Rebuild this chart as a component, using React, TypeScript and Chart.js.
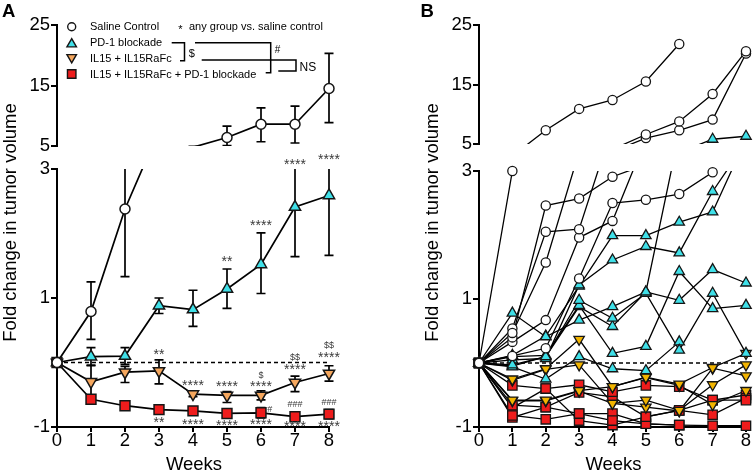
import React, { useEffect, useRef } from 'react';
import { Chart, registerables } from 'chart.js';

Chart.register(...registerables);

const FONT = "'Liberation Sans', Arial, Helvetica, sans-serif";

// ---------- shared axes ----------
const WEEKS = [0, 1, 2, 3, 4, 5, 6, 7, 8];
const Y_TOP_TICKS = [5, 15, 25];
const Y_BOTTOM_TICKS = [-1, 1, 3];
const Y_TOP_RANGE = [5, 25];
const Y_BOTTOM_RANGE = [-1, 3];
const ZERO_LINE = [0, 0]; // reference line value at first and last week
const Y_TITLE = 'Fold change in tumor volume';
const X_TITLE = 'Weeks';
const LEGEND_LABELS = ['Saline Control', 'PD-1 blockade', 'IL15 + IL15RaFc', 'IL15 + IL15RaFc + PD-1 blockade'];
const LEGEND_NOTE = 'any group vs. saline control';

// ---------- panel A: group means with error bars ----------
const SALINE_MEAN = [0, 0.79, 2.38, 3.6, 4.8, 6.4, 8.6, 8.6, 14.5];
const SALINE_LO = [0, 0.36, 1.33, 3.2, 4.2, 5.05, 5.7, 5.5, 8.85];
const SALINE_HI = [0, 1.25, 3.6, 4.0, 4.95, 8.3, 11.3, 11.6, 20.3];

const PD1_MEAN = [0, 0.09, 0.1, 0.88, 0.82, 1.14, 1.52, 2.41, 2.59];
const PD1_LO = [0, -0.05, -0.03, 0.76, 0.56, 0.84, 1.07, 1.64, 1.66];
const PD1_HI = [0, 0.23, 0.23, 1.0, 1.12, 1.45, 2.01, 3.4, 3.5];

const IL15_MEAN = [0, -0.3, -0.15, -0.13, -0.49, -0.51, -0.51, -0.31, -0.17];
const IL15_LO = [0, -0.5, -0.31, -0.33, -0.53, -0.62, -0.58, -0.45, -0.29];
const IL15_HI = [0, -0.04, -0.06, 0.04, -0.45, -0.45, -0.44, -0.21, -0.05];

const COMBO_MEAN = [0, -0.57, -0.67, -0.73, -0.75, -0.79, -0.78, -0.84, -0.8];
const COMBO_LO = [0, -0.62, -0.71, -0.8, -0.8, -0.84, -0.86, -0.9, -0.87];
const COMBO_HI = [0, -0.52, -0.63, -0.66, -0.7, -0.74, -0.7, -0.78, -0.73];

// significance marks: [week, value at mark centre, text]
const PD1_MARKS: [number, number, string][] = [[5, 1.6, '**'], [6, 2.16, '****'], [7, 3.11, '****'], [8, 3.19, '****']];
const IL15_MARKS: [number, number, string][] = [
  [3, 0.17, '**'], [4, -0.32, '****'], [5, -0.33, '****'], [6, -0.34, '****'], [6, -0.2, '$'],
  [7, -0.07, '****'], [7, 0.09, '$$'], [8, 0.12, '****'], [8, 0.27, '$$'],
];
const COMBO_MARKS: [number, number, string][] = [
  [3, -0.89, '**'], [4, -0.92, '****'], [5, -0.94, '****'], [6, -0.92, '****'], [6.26, -0.72, '#'],
  [7, -0.65, '###'], [7, -0.95, '****'], [8, -0.61, '###'], [8, -0.95, '****'],
];

// ---------- panel B: individual mice ----------
const SALINE_MICE = [
  [0, 3.0, 7.3, 10.9, 12.4, 15.5, 21.8, null, null],
  [0, 0.47, 1.57, 3.3, 4.1, 6.6, 8.8, 13.4, 20.6],
  [0, 0.54, 2.05, 2.09, 3.7, 6.0, 7.3, 9.1, 20.2],
  [0, 0.4, 2.46, 2.57, 2.91, 3.1, 3.6, null, null],
  [0, 0.33, 0.67, 1.96, 2.22, 3.5, null, null, null],
  [0, 0.11, 0.23, 1.32, 2.5, 2.55, 2.64, 2.98, 3.6],
];
const PD1_MICE = [
  [0, 0.78, 0.41, 0.67, 0.88, 1.11, 0.98, 1.46, 1.25],
  [0, -0.03, 0.1, 0.98, 0.7, 1.09, 0.2, 1.09, 0.15],
  [0, 0.1, 0.12, 0.9, 0.15, 0.26, 1.43, 0.85, 0.9],
  [0, 0.05, 0.07, 1.22, 1.61, 1.82, 1.72, 2.68, 3.45],
  [0, 0.12, 0.42, 1.2, 1.99, 1.99, 2.2, 2.36, 3.5],
  [0, -0.06, -0.25, 0.1, -0.09, -0.12, 0.33, null, null],
  [0, -0.05, 0.1, 0.88, 0.57, 1.11, 3.6, 5.8, 6.3],
];
const IL15_MICE = [
  [0, -0.25, -0.09, 0.37, -0.37, -0.22, -0.33, -0.07, 0.15],
  [0, -0.27, -0.1, -0.03, -0.63, -0.58, -0.74, -0.34, -0.03],
  [0, -0.58, -0.58, -0.43, -0.37, -0.23, -0.35, -0.65, -0.43],
  [0, -0.59, -0.59, -0.44, -0.63, -0.69, -0.75, -0.08, -0.2],
];
const COMBO_MICE = [
  [0, -0.35, -0.4, -0.34, -0.45, -0.35, -0.37, -0.58, -0.58],
  [0, -0.66, -0.69, -0.46, -0.53, -0.84, -0.74, -0.81, -0.55],
  [0, -0.82, -0.88, -0.79, -0.9, -0.95, -0.97, -0.98, -0.98],
  [0, -0.7, -0.4, -0.9, -0.97, -0.84, -0.74, -0.58, -0.5],
  [0, -0.85, -0.69, -0.79, -0.79, -0.95, -0.97, null, null],
];

// ---------- styles ----------
const CYAN = '#3fe0e8';
const RED = '#ee1c1c';
const ORANGE_A = '#f5a75e';
const ORANGE_B = '#f2b400';
const EDGE = '#151515';

const STYLES_A = [
  { shape: 'circle', rotation: 0, fill: '#ffffff', radius: 5 },
  { shape: 'triangle', rotation: 0, fill: CYAN, radius: 6.5 },
  { shape: 'triangle', rotation: 180, fill: ORANGE_A, radius: 6.5 },
  { shape: 'rect', rotation: 0, fill: RED, radius: 7 },
];
const STYLES_B = [
  { shape: 'circle', rotation: 0, fill: '#ffffff', radius: 4.6 },
  { shape: 'triangle', rotation: 0, fill: CYAN, radius: 6 },
  { shape: 'triangle', rotation: 180, fill: ORANGE_B, radius: 6 },
  { shape: 'rect', rotation: 0, fill: RED, radius: 6.6 },
];

const SEGS = [
  { id: 'yTop', min: Y_TOP_RANGE[0], max: Y_TOP_RANGE[1] },
  { id: 'yBottom', min: Y_BOTTOM_RANGE[0], max: Y_BOTTOM_RANGE[1] },
];

function seriesDatasets(values: (number | null)[], style: any, lineWidth: number, edgeWidth: number) {
  const out: any[] = [];
  for (const seg of SEGS) {
    out.push({
      data: WEEKS.map((w, i) => ({ x: w, y: values[i] ?? null })),
      yAxisID: seg.id,
      clipSeg: seg.id,
      clip: false,
      borderColor: '#000',
      borderWidth: lineWidth,
      pointRadius: 0,
      tension: 0,
      fill: false,
      spanGaps: false,
      order: 2,
    });
    out.push({
      data: WEEKS.map((w, i) => ({ x: w, y: values[i] }))
        .filter((p) => p.y != null && (p.y as number) >= seg.min && (p.y as number) <= seg.max),
      yAxisID: seg.id,
      clip: false,
      showLine: false,
      pointStyle: style.shape === 'rect' ? 'rect' : style.shape,
      pointRotation: style.rotation,
      pointRadius: style.radius,
      pointBackgroundColor: style.fill,
      pointBorderColor: EDGE,
      pointBorderWidth: edgeWidth,
      order: 1,
    });
  }
  return out;
}

function zeroLineDataset() {
  return {
    data: [
      { x: WEEKS[0], y: ZERO_LINE[0] },
      { x: WEEKS[WEEKS.length - 1], y: ZERO_LINE[1] },
    ],
    yAxisID: 'yBottom',
    clip: false,
    borderColor: '#000',
    borderWidth: 1.5,
    borderDash: [4, 3],
    pointRadius: 0,
    order: 3,
  };
}

function makeScales(p: { yWidth: number; topWeight: number; gapWeight: number; bottomWeight: number }) {
  const tickFont = { family: FONT, size: 18.5 };
  const yAxis = (min: number, max: number, ticks: number[], weight: number) => ({
    type: 'linear',
    position: 'left',
    stack: 'y',
    stackWeight: weight,
    min,
    max,
    afterBuildTicks: (s: any) => { s.ticks = ticks.map((v) => ({ value: v })); },
    afterFit: (s: any) => { s.width = p.yWidth; },
    ticks: { font: tickFont, color: '#000', padding: 1 },
    grid: { display: true, drawOnChartArea: false, drawTicks: true, tickLength: 6, color: '#000', lineWidth: 2 },
    border: { display: true, color: '#000', width: 2 },
  });
  return {
    x: {
      type: 'linear',
      position: 'bottom',
      min: WEEKS[0],
      max: WEEKS[WEEKS.length - 1],
      afterBuildTicks: (s: any) => { s.ticks = WEEKS.map((v) => ({ value: v })); },
      afterFit: (s: any) => { s.height = 45; },
      ticks: { font: tickFont, color: '#000', padding: -2, maxRotation: 0, autoSkip: false },
      grid: { display: true, drawOnChartArea: false, drawTicks: true, tickLength: 5, color: '#000', lineWidth: 2 },
      border: { display: true, color: '#000', width: 2 },
    },
    yBottom: yAxis(Y_BOTTOM_RANGE[0], Y_BOTTOM_RANGE[1], Y_BOTTOM_TICKS, p.bottomWeight),
    yGap: { type: 'linear', position: 'left', stack: 'y', stackWeight: p.gapWeight, display: false, min: 0, max: 1 },
    yTop: yAxis(Y_TOP_RANGE[0], Y_TOP_RANGE[1], Y_TOP_TICKS, p.topWeight),
  };
}

// clip line datasets to their own axis segment
const segClipPlugin = {
  id: 'segClip',
  beforeDatasetDraw(chart: any, args: any) {
    const ds = chart.data.datasets[args.index];
    if (!ds.clipSeg) return;
    const s = chart.scales[ds.clipSeg];
    const ctx = chart.ctx;
    ctx.save();
    ctx.beginPath();
    ctx.rect(0, s.top, chart.width, s.bottom - s.top);
    ctx.clip();
  },
  afterDatasetDraw(chart: any, args: any) {
    const ds = chart.data.datasets[args.index];
    if (!ds.clipSeg) return;
    chart.ctx.restore();
  },
};

function textCentered(ctx: CanvasRenderingContext2D, text: string, x: number, cy: number, align: CanvasTextAlign) {
  ctx.textAlign = align;
  ctx.textBaseline = 'alphabetic';
  const m = ctx.measureText(text);
  const asc = m.actualBoundingBoxAscent;
  const desc = m.actualBoundingBoxDescent;
  ctx.fillText(text, x, cy + (asc - desc) / 2);
}

function drawMarker(ctx: CanvasRenderingContext2D, style: any, x: number, y: number, r: number) {
  ctx.beginPath();
  if (style.shape === 'circle') {
    ctx.arc(x, y, r, 0, Math.PI * 2);
  } else if (style.shape === 'rect') {
    const h = r * Math.SQRT1_2;
    ctx.rect(x - h, y - h, 2 * h, 2 * h);
  } else {
    const d = style.rotation === 180 ? -1 : 1;
    const cy = y + d * r * 0.25;
    ctx.moveTo(x, cy - d * r);
    ctx.lineTo(x + r * 0.866, cy + d * r * 0.5);
    ctx.lineTo(x - r * 0.866, cy + d * r * 0.5);
    ctx.closePath();
  }
  ctx.fillStyle = style.fill;
  ctx.fill();
  ctx.lineWidth = 1.4;
  ctx.strokeStyle = EDGE;
  ctx.stroke();
}

function decorPlugin(label: string, labelX: number, yTitleX: number) {
  return {
    id: 'decor',
    afterDraw(chart: any) {
      const ctx = chart.ctx;
      const area = chart.chartArea;
      ctx.save();
      ctx.fillStyle = '#000';
      ctx.font = `bold 18.5px ${FONT}`;
      ctx.textAlign = 'left';
      ctx.textBaseline = 'alphabetic';
      ctx.fillText(label, labelX, 16.7);
      ctx.font = `18.5px ${FONT}`;
      ctx.textAlign = 'center';
      ctx.fillText(X_TITLE, (area.left + area.right) / 2 + 1, 470);
      ctx.translate(yTitleX, (area.top + area.bottom) / 2 - 3.5);
      ctx.rotate(-Math.PI / 2);
      ctx.fillText(Y_TITLE, 0, 0);
      ctx.restore();
    },
  };
}

const ERR_GROUPS = [
  { lo: SALINE_LO, hi: SALINE_HI },
  { lo: PD1_LO, hi: PD1_HI },
  { lo: IL15_LO, hi: IL15_HI },
  { lo: COMBO_LO, hi: COMBO_HI },
];

const errorBarsPlugin = {
  id: 'errorBars',
  beforeDatasetsDraw(chart: any) {
    const ctx = chart.ctx;
    const xs = chart.scales.x;
    for (const seg of SEGS) {
      const s = chart.scales[seg.id];
      ctx.save();
      ctx.beginPath();
      ctx.rect(0, s.top, chart.width, s.bottom - s.top);
      ctx.clip();
      ctx.strokeStyle = '#000';
      ctx.lineWidth = 1.7;
      for (const g of ERR_GROUPS) {
        WEEKS.forEach((w, i) => {
          const lo = g.lo[i];
          const hi = g.hi[i];
          if (lo == null || hi == null || lo === hi) return;
          const px = xs.getPixelForValue(w);
          const y1 = s.getPixelForValue(lo);
          const y2 = s.getPixelForValue(hi);
          ctx.beginPath();
          ctx.moveTo(px, y1);
          ctx.lineTo(px, y2);
          ctx.moveTo(px - 4.5, y1);
          ctx.lineTo(px + 4.5, y1);
          ctx.moveTo(px - 4.5, y2);
          ctx.lineTo(px + 4.5, y2);
          ctx.stroke();
        });
      }
      ctx.restore();
    }
  },
  afterDatasetsDraw(chart: any) {
    const ctx = chart.ctx;
    const xs = chart.scales.x;
    const ys = chart.scales.yBottom;
    ctx.save();
    ctx.fillStyle = '#3a3a3a';
    for (const [w, v, t] of [...PD1_MARKS, ...IL15_MARKS, ...COMBO_MARKS]) {
      const star = t.startsWith('*');
      ctx.font = star ? `14px ${FONT}` : `9px ${FONT}`;
      textCentered(ctx, t, xs.getPixelForValue(w), ys.getPixelForValue(v), 'center');
    }
    ctx.restore();
  },
};

const legendPlugin = {
  id: 'legendA',
  afterDraw(chart: any) {
    const ctx = chart.ctx;
    ctx.save();
    const rows = [26.7, 42.7, 58.7, 74];
    const sizes = [4, 5.5, 5.5, 6];
    LEGEND_LABELS.forEach((lab, i) => {
      drawMarker(ctx, STYLES_A[i], 71.7, rows[i], sizes[i]);
      ctx.fillStyle = '#000';
      ctx.font = `11px ${FONT}`;
      ctx.textAlign = 'left';
      ctx.textBaseline = 'middle';
      ctx.fillText(lab, 90, rows[i] + 0.5);
    });
    ctx.fillStyle = '#000';
    ctx.font = `11px ${FONT}`;
    textCentered(ctx, '*', 180.5, 27.2, 'center');
    ctx.textBaseline = 'middle';
    ctx.textAlign = 'left';
    ctx.fillText(LEGEND_NOTE, 189, 27.2);

    ctx.strokeStyle = '#000';
    ctx.lineWidth = 1.5;
    ctx.beginPath();
    ctx.moveTo(171.7, 42.7); ctx.lineTo(184.5, 42.7); ctx.lineTo(184.5, 60.7); ctx.lineTo(180, 60.7);
    ctx.moveTo(195, 42.7); ctx.lineTo(270.7, 42.7); ctx.lineTo(270.7, 72.7); ctx.lineTo(265.7, 72.7);
    ctx.moveTo(201.7, 60); ctx.lineTo(296, 60); ctx.lineTo(296, 71); ctx.lineTo(278.3, 71);
    ctx.stroke();

    ctx.fillStyle = '#000';
    ctx.font = `11px ${FONT}`;
    textCentered(ctx, '$', 191.7, 53.3, 'center');
    ctx.font = `10px ${FONT}`;
    textCentered(ctx, '#', 277.5, 49.3, 'center');
    ctx.font = `12px ${FONT}`;
    textCentered(ctx, 'NS', 299.5, 66.7, 'left');
    ctx.restore();
  },
};

function baseOptions(scales: any, padding: any) {
  return {
    responsive: false,
    maintainAspectRatio: false,
    devicePixelRatio: 1,
    animation: false,
    events: [],
    layout: { padding, autoPadding: false },
    plugins: { legend: { display: false }, tooltip: { enabled: false }, title: { display: false } },
    scales,
  };
}

function configA(): any {
  const groups = [
    [SALINE_MEAN, 0], [PD1_MEAN, 1], [IL15_MEAN, 2], [COMBO_MEAN, 3],
  ] as [number[], number][];
  const datasets: any[] = [];
  for (const [vals, k] of groups) datasets.push(...seriesDatasets(vals, STYLES_A[k], 1.7, 1.5));
  datasets.push(zeroLineDataset());
  return {
    type: 'line',
    data: { datasets },
    options: baseOptions(
      makeScales({ yWidth: 57, topWeight: 121, gapWeight: 23, bottomWeight: 258 }),
      { left: 0, right: 48, top: 25, bottom: 0 },
    ),
    plugins: [segClipPlugin, errorBarsPlugin, legendPlugin, decorPlugin('A', 2, 15.5)],
  };
}

function configB(): any {
  const groups = [
    [SALINE_MICE, 0], [PD1_MICE, 1], [IL15_MICE, 2], [COMBO_MICE, 3],
  ] as [(number | null)[][], number][];
  const datasets: any[] = [];
  for (const [mice, k] of groups) {
    for (const m of mice) datasets.push(...seriesDatasets(m, STYLES_B[k], 1.3, 1.3));
  }
  datasets.push(zeroLineDataset());
  return {
    type: 'line',
    data: { datasets },
    options: baseOptions(
      makeScales({ yWidth: 102, topWeight: 119, gapWeight: 27, bottomWeight: 256 }),
      { left: 0, right: 7, top: 25, bottom: 0 },
    ),
    plugins: [segClipPlugin, decorPlugin('B', 43.5, 60.5)],
  };
}

export default function App() {
  const refA = useRef<HTMLCanvasElement>(null);
  const refB = useRef<HTMLCanvasElement>(null);
  useEffect(() => {
    const a = new Chart(refA.current as HTMLCanvasElement, configA());
    const b = new Chart(refB.current as HTMLCanvasElement, configB());
    return () => {
      a.destroy();
      b.destroy();
    };
  }, []);
  return (
    <div style={{ position: 'absolute', left: 0, top: 0, width: 753, height: 472, background: '#fff' }}>
      <canvas ref={refA} width={377} height={472} style={{ position: 'absolute', left: 0, top: 0, width: 377, height: 472 }} />
      <canvas ref={refB} width={376} height={472} style={{ position: 'absolute', left: 377, top: 0, width: 376, height: 472 }} />
    </div>
  );
}
